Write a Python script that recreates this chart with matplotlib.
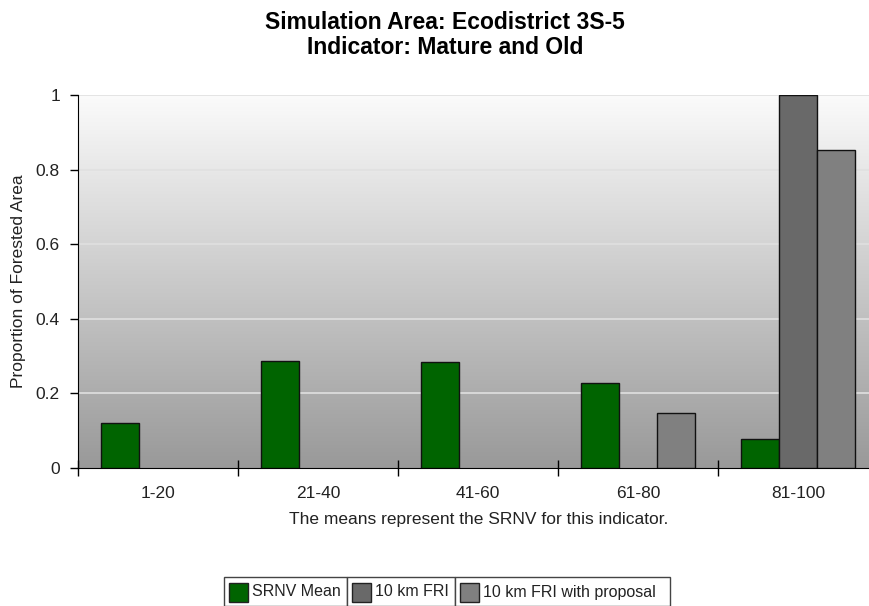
import numpy as np
import matplotlib.pyplot as plt
from matplotlib.patches import Rectangle

plt.rcParams['font.family'] = ['Liberation Sans', 'DejaVu Sans']

categories = ['1-20', '21-40', '41-60', '61-80', '81-100']
srnv_mean = [0.12, 0.287, 0.284, 0.228, 0.078]
fri_10km = [0, 0, 0, 0, 1.0]
fri_10km_proposal = [0, 0, 0, 0.147, 0.853]
series_names = ['SRNV Mean', '10 km FRI', '10 km FRI with proposal']
colors = ['#006400', '#696969', '#808080']

W, H = 870, 606
fig = plt.figure(figsize=(W / 100, H / 100), dpi=100)
fig.patch.set_facecolor('white')


def fx(px):
    return px / W


def fy(py):
    return 1 - py / H


ax = fig.add_axes([fx(78), fy(468), fx(800), 373 / H])

# gradient background
grad = np.linspace(0, 1, 256).reshape(-1, 1)
ax.imshow(grad, extent=[0, 1, 0, 1], transform=ax.transAxes, aspect='auto',
          cmap=plt.matplotlib.colors.LinearSegmentedColormap.from_list('bg', ['#fbfbfb', '#999999']),
          zorder=0, origin='upper')
ax.set_facecolor('none')

x = np.arange(len(categories))
bw = 0.2375
for i, vals in enumerate([srnv_mean, fri_10km, fri_10km_proposal]):
    vals = np.array(vals, dtype=float)
    m = vals > 0
    ax.bar(x[m] + (i - 1) * bw, vals[m], width=bw, color=colors[i],
           edgecolor='#111111', linewidth=1.0, zorder=3)

ax.set_xlim(-0.5, 4.5)
ax.set_ylim(0, 1)
ax.set_yticks([0, 0.2, 0.4, 0.6, 0.8, 1])
ax.set_yticklabels(['0', '0.2', '0.4', '0.6', '0.8', '1'])
for yv in [0.2, 0.4, 0.6, 0.8, 1.0]:
    ax.axhline(yv, color='#e0e0e0', linewidth=1.2, zorder=1)

ax.set_xticks(np.arange(-0.5, 5.0, 1.0))
ax.set_xticklabels([])
ax.set_xticks(x, minor=True)
ax.set_xticklabels(categories, minor=True)
ax.tick_params(axis='x', which='major', direction='inout', length=11, width=1)
ax.tick_params(axis='x', which='minor', length=0, pad=13, labelsize=12.5, labelcolor='#222222')
ax.tick_params(axis='y', direction='out', length=6, width=1, pad=7, labelsize=12.5,
               labelcolor='#222222')

for s in ['top', 'right']:
    ax.spines[s].set_visible(False)
ax.spines['left'].set_color('black')
ax.spines['bottom'].set_color('black')

ax.set_ylabel('Proportion of Forested Area', fontsize=12.5, color='#222222')
ax.yaxis.set_label_coords(-52 / 800, 0.5)
ax.set_xlabel('The means represent the SRNV for this indicator.', fontsize=12.5,
              color='#222222')
ax.xaxis.set_label_coords((479 - 78) / 800, -44 / 373)

fig.text(fx(445), fy(35), 'Simulation Area: Ecodistrict 3S-5\nIndicator: Mature and Old',
         ha='center', va='center', fontsize=16.5, fontweight='bold', linespacing=1.12)

# legend cells
cells = [(224, 347), (347, 455), (455, 670)]
for (l, r), name, c in zip(cells, series_names, colors):
    fig.add_artist(Rectangle((fx(l), fy(606)), fx(r - l), 29 / H, transform=fig.transFigure,
                             facecolor='white', edgecolor='#444444', linewidth=1))
    fig.add_artist(Rectangle((fx(l + 5), fy(602)), fx(19), 19 / H, transform=fig.transFigure,
                             facecolor=c, edgecolor='#222222', linewidth=1))
    fig.text(fx(l + 28), fy(592), name, ha='left', va='center', fontsize=11.5, color='#222222')

fig.savefig('out.png', dpi=100)
